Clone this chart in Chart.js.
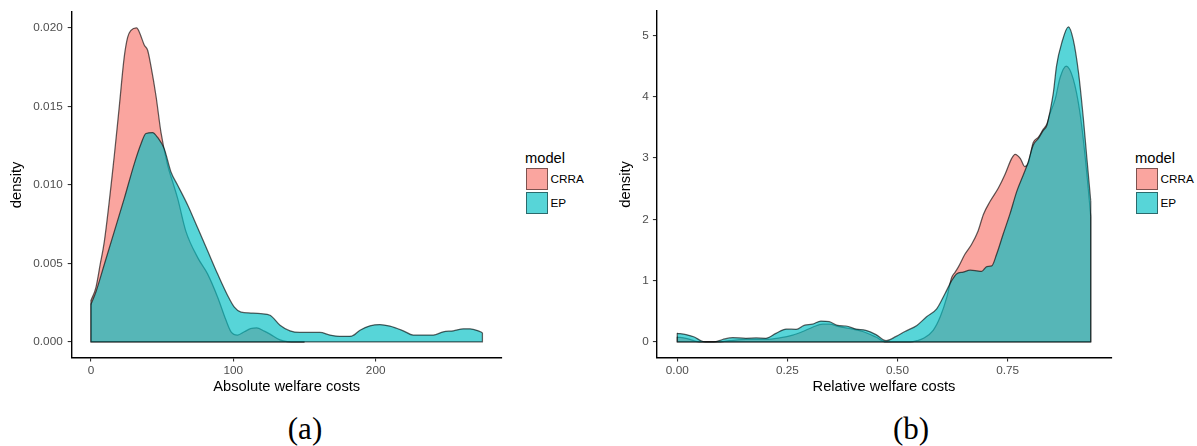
<!DOCTYPE html>
<html>
<head>
<meta charset="utf-8">
<script src="https://cdn.jsdelivr.net/npm/chart.js@4.4.1/dist/chart.umd.min.js"></script>
<style>
  html, body { margin: 0; padding: 0; background: #fff; }
  body { width: 1197px; height: 446px; position: relative; overflow: hidden;
         font-family: "Liberation Sans", Arial, sans-serif; }
  canvas { position: absolute; top: 0; }
  .lg-title { position: absolute; font-size: 14.7px; line-height: 17px; color: #000; white-space: nowrap; }
  .lg-box { position: absolute; width: 22px; height: 22px; box-sizing: border-box;
            border: 1.5px solid rgba(0,0,0,0.5); }
  .lg-text { position: absolute; font-size: 11.75px; line-height: 22px; color: #000; white-space: nowrap; }
  .caption { position: absolute; width: 100px; text-align: center; font-family: "Liberation Serif", "DejaVu Serif", serif;
             font-size: 31px; line-height: 31px; color: #000; }
</style>
</head>
<body>
<canvas id="absChart" width="520" height="400" style="left:0px"></canvas>
<canvas id="relChart" width="535" height="400" style="left:585px"></canvas>
<div class="caption" style="left:255px;top:412.5px">(a)</div>
<div class="caption" style="left:861px;top:412.5px">(b)</div>
<script>
// Model names (legend order)
const MODELS = ['CRRA', 'EP'];

// Kernel density estimates of absolute welfare costs
const ABS_X_CRRA = [0, 3.5, 6.5, 9.4, 16.4, 19.9, 23.4, 25.8, 28.1, 32.1, 34, 37.5, 39.8, 42.2, 45.7, 49.2,
  53.9, 57.4, 60.9, 66.7, 75, 82, 89, 94.9, 98.4, 103, 107.7, 112, 116.4, 121.8, 125.8, 132.8, 138, 145, 150];
const ABS_Y_CRRA = [0.00264, 0.00348, 0.00495, 0.0064, 0.01187, 0.0150, 0.01816, 0.0194, 0.01983, 0.0200, 0.01972,
  0.01889, 0.01857, 0.01752, 0.01564, 0.01333, 0.01124, 0.01019, 0.00914, 0.00704, 0.00537, 0.00432, 0.00285,
  0.00138, 0.00065, 0.00044, 0.00065, 0.00085, 0.0009, 0.00069, 0.0005, 0.00013, 0.00002, 0, 0];

const ABS_X_EP = [0, 3.5, 9.4, 16.4, 23.4, 30.4, 35.1, 38.6, 43.3, 46.8, 51.5, 56.2, 60.9, 67.9, 75, 82, 89, 96,
  100.7, 105.4, 112.4, 119.4, 125.8, 132.8, 139.8, 146.8, 160.9, 167.9, 174.9, 183.2, 189, 196, 203, 210, 219.4,
  226.4, 240.5, 247.5, 254.6, 261.6, 266.3, 272.1, 275];
const ABS_Y_EP = [0.0024, 0.0032, 0.00495, 0.00704, 0.00914, 0.01134, 0.0126, 0.01327, 0.01333, 0.01302, 0.01229,
  0.01082, 0.00998, 0.00872, 0.00725, 0.00579, 0.00432, 0.00296, 0.00222, 0.0019, 0.00184, 0.0018, 0.0017,
  0.00107, 0.00071, 0.00061, 0.00061, 0.00044, 0.00036, 0.00038, 0.00075, 0.00103, 0.00111, 0.00101, 0.00071,
  0.00044, 0.00044, 0.00065, 0.00071, 0.00084, 0.00084, 0.00071, 0.00059];

// Kernel density estimates of relative welfare costs
const REL_X_CRRA = [0, 0.02, 0.05, 0.09, 0.118, 0.156, 0.201, 0.232, 0.262, 0.285, 0.307, 0.33, 0.345, 0.368,
  0.39, 0.421, 0.451, 0.474, 0.529, 0.544, 0.559, 0.581, 0.597, 0.612, 0.623, 0.631, 0.638, 0.653, 0.668, 0.683,
  0.695, 0.71, 0.729, 0.744, 0.759, 0.767, 0.779, 0.789, 0.797, 0.808, 0.82, 0.831, 0.839, 0.846, 0.858, 0.869,
  0.883, 0.899, 0.914, 0.925, 0.933, 0.9387];
const REL_Y_CRRA = [0.08, 0.06, 0, 0, 0.02, 0.04, 0.04, 0.065, 0.11, 0.17, 0.24, 0.29, 0.29, 0.25, 0.22, 0.17,
  0.08, 0, 0, 0.02, 0.06, 0.19, 0.41, 0.73, 1.05, 1.14, 1.22, 1.43, 1.59, 1.81, 2.08, 2.29, 2.51, 2.73, 2.99,
  3.06, 2.99, 2.86, 2.92, 3.25, 3.34, 3.47, 3.55, 3.72, 3.96, 4.31, 4.5, 4.29, 3.75, 3.1, 2.51, 2.05];

const REL_X_EP = [0, 0.0198, 0.0387, 0.054, 0.065, 0.083, 0.103, 0.126, 0.156, 0.179, 0.201, 0.224, 0.247, 0.27,
  0.288, 0.307, 0.326, 0.345, 0.364, 0.383, 0.406, 0.428, 0.451, 0.474, 0.497, 0.517, 0.544, 0.566, 0.589, 0.608,
  0.623, 0.634, 0.649, 0.665, 0.68, 0.691, 0.703, 0.714, 0.725, 0.74, 0.755, 0.771, 0.786, 0.797, 0.808, 0.82,
  0.831, 0.839, 0.846, 0.854, 0.861, 0.873, 0.888, 0.899, 0.911, 0.922, 0.93, 0.9387];
const REL_Y_EP = [0.14, 0.12, 0.08, 0.02, 0, 0, 0.04, 0.07, 0.06, 0.065, 0.06, 0.14, 0.21, 0.205, 0.27, 0.29, 0.34,
  0.33, 0.27, 0.26, 0.21, 0.19, 0.12, 0.02, 0.09, 0.17, 0.27, 0.41, 0.54, 0.79, 1.0, 1.11, 1.14, 1.17, 1.16, 1.15,
  1.23, 1.24, 1.43, 1.76, 2.08, 2.46, 2.73, 2.94, 3.21, 3.32, 3.45, 3.53, 3.75, 4.07, 4.5, 4.88, 5.14, 4.93, 4.39,
  3.64, 2.99, 2.3];

// Axis ticks and their labels
const ABS_X_TICKS = [0, 100, 200];
const ABS_X_LABELS = ['0', '100', '200'];
const ABS_Y_TICKS = [0, 0.005, 0.01, 0.015, 0.02];
const ABS_Y_LABELS = ['0.000', '0.005', '0.010', '0.015', '0.020'];
const REL_X_TICKS = [0, 0.25, 0.5, 0.75];
const REL_X_LABELS = ['0.00', '0.25', '0.50', '0.75'];
const REL_Y_TICKS = [0, 1, 2, 3, 4, 5];
const REL_Y_LABELS = ['0', '1', '2', '3', '4', '5'];

// Styling
const FONT = '"Liberation Sans", Arial, sans-serif';
const FILLS = ['rgba(248,118,109,0.66)', 'rgba(0,191,196,0.66)'];
const OUTLINE = 'rgba(0,0,0,0.62)';
const TICK_TEXT = '#4d4d4d';
const TICK_MARK = '#333333';

function points(xs, ys) {
  return xs.map((x, i) => ({ x: x, y: ys[i] }));
}

// closing edges of a density polygon: the two verticals and the baseline
function closingEdges(xs, ys) {
  const n = xs.length - 1;
  return [{ x: xs[0], y: ys[0] }, { x: xs[0], y: 0 }, { x: xs[n], y: 0 }, { x: xs[n], y: ys[n] }];
}

function densityDatasets(series) {
  const sets = [];
  series.forEach((s, k) => {
    const ord = (series.length - k) * 2;
    sets.push({
      label: s.name, data: points(s.xs, s.ys), fill: 'origin',
      backgroundColor: s.fill, borderColor: OUTLINE, borderWidth: 1.25,
      pointRadius: 0, cubicInterpolationMode: 'monotone', order: ord
    });
    sets.push({
      label: s.name + ' edges', data: closingEdges(s.xs, s.ys), fill: false,
      borderColor: OUTLINE, borderWidth: 1.25, pointRadius: 0, tension: 0, order: ord - 1
    });
  });
  return sets;
}

function expand(lo, hi) {
  const d = (hi - lo) * 0.05;
  return [lo - d, hi + d];
}

function makeChart(id, cfg) {
  const [xMin, xMax] = expand(0, cfg.xDataMax);
  const [yMin, yMax] = expand(0, cfg.yDataMax);
  return new Chart(document.getElementById(id), {
    type: 'line',
    data: { datasets: densityDatasets(cfg.series) },
    options: {
      responsive: false, animation: false, devicePixelRatio: 1,
      layout: { padding: { left: 0, top: 8, right: cfg.padRight, bottom: 0 } },
      plugins: { legend: { display: false }, tooltip: { enabled: false } },
      elements: { line: { borderJoinStyle: 'round' } },
      scales: {
        x: {
          type: 'linear', min: xMin, max: xMax,
          afterBuildTicks: s => { s.ticks = cfg.xTicks.map(v => ({ value: v })); },
          afterFit: s => { s.height = 42.3; },
          ticks: { callback: (v, i) => cfg.xLabels[i], color: TICK_TEXT, font: { family: FONT, size: 11.75 },
                   padding: 1.9, maxRotation: 0, autoSkip: false },
          grid: { drawOnChartArea: false, drawTicks: true, tickLength: 3.7, color: TICK_MARK, lineWidth: 1.1 },
          border: { display: true, color: '#000', width: 1.4 },
          title: { display: true, text: cfg.xTitle, color: '#000', font: { family: FONT, size: 14.7 },
                   padding: { top: 0, bottom: 4.7 } }
        },
        y: {
          type: 'linear', min: yMin, max: yMax,
          afterBuildTicks: s => { s.ticks = cfg.yTicks.map(v => ({ value: v })); },
          afterFit: s => { s.width = cfg.yAxisWidth; },
          ticks: { callback: (v, i) => cfg.yLabels[i], color: TICK_TEXT, font: { family: FONT, size: 11.75 },
                   padding: cfg.yTickPad, autoSkip: false },
          grid: { drawOnChartArea: false, drawTicks: true, tickLength: 3.7, color: TICK_MARK, lineWidth: 1.1 },
          border: { display: true, color: '#000', width: 1.4 },
          title: { display: true, text: 'density', color: '#000', font: { family: FONT, size: 14.7 },
                   padding: { top: cfg.yTitlePad, bottom: 0 } }
        }
      }
    }
  });
}

function makeLegend(left) {
  const title = document.createElement('div');
  title.className = 'lg-title';
  title.textContent = 'model';
  title.style.left = (left - 1) + 'px';
  title.style.top = '149.7px';
  document.body.appendChild(title);
  MODELS.forEach((name, k) => {
    const top = 168.3 + k * 23.5;
    const box = document.createElement('div');
    box.className = 'lg-box';
    box.style.left = left + 'px';
    box.style.top = top + 'px';
    box.style.background = FILLS[k];
    document.body.appendChild(box);
    const txt = document.createElement('div');
    txt.className = 'lg-text';
    txt.textContent = name;
    txt.style.left = (left + 24.5) + 'px';
    txt.style.top = top + 'px';
    document.body.appendChild(txt);
  });
}

makeChart('absChart', {
  series: [
    { name: MODELS[0], xs: ABS_X_CRRA, ys: ABS_Y_CRRA, fill: FILLS[0] },
    { name: MODELS[1], xs: ABS_X_EP, ys: ABS_Y_EP, fill: FILLS[1] }
  ],
  xDataMax: 275, yDataMax: 0.0200,
  xTicks: ABS_X_TICKS, xLabels: ABS_X_LABELS, yTicks: ABS_Y_TICKS, yLabels: ABS_Y_LABELS,
  xTitle: 'Absolute welfare costs',
  padRight: 18, yAxisWidth: 71.4, yTickPad: 5, yTitlePad: 8.3
});

makeChart('relChart', {
  series: [
    { name: MODELS[0], xs: REL_X_CRRA, ys: REL_Y_CRRA, fill: FILLS[0] },
    { name: MODELS[1], xs: REL_X_EP, ys: REL_Y_EP, fill: FILLS[1] }
  ],
  xDataMax: 0.9387, yDataMax: 5.14,
  xTicks: REL_X_TICKS, xLabels: REL_X_LABELS, yTicks: REL_Y_TICKS, yLabels: REL_Y_LABELS,
  xTitle: 'Relative welfare costs',
  padRight: 8.6, yAxisWidth: 71.6, yTickPad: 4, yTitlePad: 32.2
});

makeLegend(526);
makeLegend(1136);
</script>
</body>
</html>
